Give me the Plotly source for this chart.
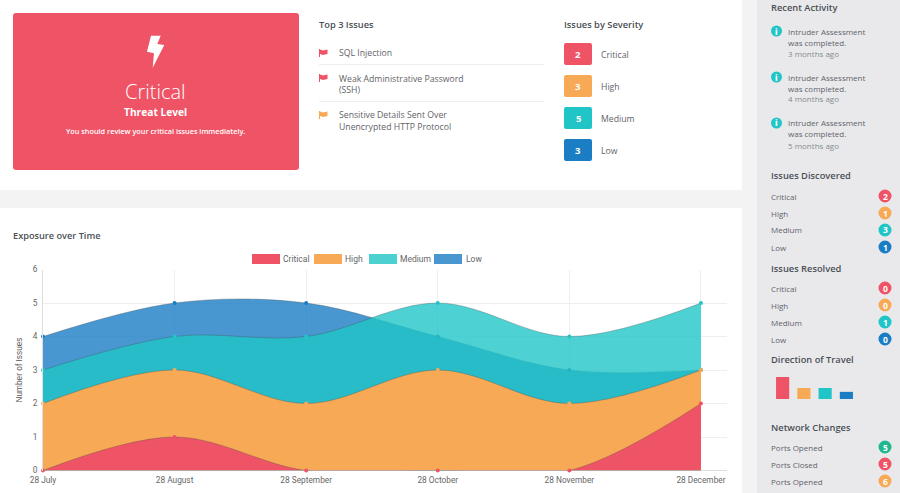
import plotly.graph_objects as go

W, H = 900, 493

# chart data
months = ['28 July', '28 August', '28 September', '28 October', '28 November', '28 December']
critical = [0, 1, 0, 0, 0, 2]
high = [2, 3, 2, 3, 2, 3]
medium = [3, 4, 4, 5, 4, 5]
low = [4, 5, 5, 4, 3, 3]

severity_names = ['Critical', 'High', 'Medium', 'Low']
severity_counts = [2, 3, 5, 3]
discovered = [2, 1, 3, 1]
resolved = [0, 0, 1, 0]
travel = [4, 2, 2, 1.3]
network_names = ['Ports Opened', 'Ports Closed', 'Ports Opened']
network_counts = [5, 5, 6]
activity_ages = ['3 months ago', '4 months ago', '5 months ago']

RED = '#EF5366'
ORANGE = '#F7A956'
TEAL = '#21C5C7'
BLUE = '#1B7DC4'
GREEN = '#1FB78F'
sev_colors = [RED, ORANGE, TEAL, BLUE]
TXT = '#5f6368'
HEAD = '#4a4f55'
FONT = 'Open Sans'


def px(x):
    return x / W


def py(y):
    return 1 - y / H


shapes = []
annotations = []


def rect(x0, y0, x1, y1, color, layer='below'):
    shapes.append(dict(type='rect', xref='paper', yref='paper', x0=px(x0), x1=px(x1), y0=py(y0), y1=py(y1),
                       fillcolor=color, line_width=0, layer=layer))


def poly(points, color):
    path = 'M' + ' L'.join(f'{px(a):.5f},{py(b):.5f}' for a, b in points) + ' Z'
    shapes.append(dict(type='path', xref='paper', yref='paper', path=path, fillcolor=color, line_width=0))


def rounded(x0, y0, x1, y1, r, color):
    p = (f'M{px(x0 + r)},{py(y0)} L{px(x1 - r)},{py(y0)} Q{px(x1)},{py(y0)} {px(x1)},{py(y0 + r)} '
         f'L{px(x1)},{py(y1 - r)} Q{px(x1)},{py(y1)} {px(x1 - r)},{py(y1)} '
         f'L{px(x0 + r)},{py(y1)} Q{px(x0)},{py(y1)} {px(x0)},{py(y1 - r)} '
         f'L{px(x0)},{py(y0 + r)} Q{px(x0)},{py(y0)} {px(x0 + r)},{py(y0)} Z')
    shapes.append(dict(type='path', xref='paper', yref='paper', path=p, fillcolor=color, line_width=0))


def circle(cx, cy, r, color):
    shapes.append(dict(type='circle', xref='paper', yref='paper', x0=px(cx - r), x1=px(cx + r),
                       y0=py(cy + r), y1=py(cy - r), fillcolor=color, line_width=0))


def label(x, y, s, size=8.7, color=TXT, weight=400, anchor='left', family=FONT):
    annotations.append(dict(xref='paper', yref='paper', x=px(x), y=py(y), text=s, showarrow=False,
                            xanchor=anchor, yanchor='middle', borderpad=0, borderwidth=0,
                            font=dict(size=size, color=color, family=family, weight=weight)))


def flag(x, y, color):
    poly([(x, y - 4), (x + 1, y - 4), (x + 1, y - 3.5), (x + 4, y - 2.5), (x + 8.5, y - 3.5), (x + 8.5, y + 1),
          (x + 4, y + 2), (x + 1, y + 1), (x + 1, y + 4), (x, y + 4)], color)


def badge(y, n, color):
    circle(885, y, 6.5, color)
    label(885, y, str(n), 8.5, 'white', 700, 'center')


# page panels
rect(0, 190, 742, 208, '#f3f3f3')
rect(742, 0, 757, H, '#f3f3f4')
rect(757, 0, W, H, '#e9e9ec')

# threat level card
rounded(13, 13, 299, 170, 3, RED)
poly([(151, 35.7), (147, 51.7), (154, 53.3), (152.7, 67.7), (164.3, 45), (157.3, 44), (160.7, 35.7)], 'white')
label(155, 92, 'Critical', 20, 'white', 300, 'center')
label(155, 112, 'Threat Level', 10.2, 'white', 700, 'center')
label(155, 131, 'You should review your critical issues immediately.', 7.3, 'white', 600, 'center')

# top issues
label(319, 25, 'Top 3 Issues', 9.3, HEAD, 600)
flag(319, 53, RED)
label(339, 53, 'SQL Injection')
rect(319, 64, 544, 65, '#eeeeee')
flag(319, 78, RED)
label(339, 78.5, 'Weak Administrative Password')
label(339, 90, '(SSH)')
rect(319, 101, 544, 102, '#eeeeee')
flag(319, 115, ORANGE)
label(339, 115, 'Sensitive Details Sent Over')
label(339, 127, 'Unencrypted HTTP Protocol')

# issues by severity
label(564, 25, 'Issues by Severity', 9.3, HEAD, 600)
for name, n, c, top in zip(severity_names, severity_counts, sev_colors, [43, 75, 107, 139]):
    rounded(564, top, 592, top + 22, 2, c)
    label(578, top + 11.5, str(n), 9.5, 'white', 700, 'center')
    label(601, top + 12, name)

# chart heading and legend
label(13, 236, 'Exposure over Time', 9.2, HEAD, 600)
for name, c, x0, tx in zip(severity_names, [RED, ORANGE, '#4DD0D0', '#4997D0'], [252, 314, 369, 434], [283, 345, 400, 466]):
    rect(x0, 254, x0 + 28, 264, c)
    label(tx, 259, name, 8.5, '#666666', 400, 'left', 'Roboto')

# sidebar
label(771, 7, 'Recent Activity', 9.3, HEAD, 600)
for age, y in zip(activity_ages, [31, 77, 123]):
    circle(776.5, y, 5.5, TEAL)
    label(776.5, y, 'i', 8, 'white', 800, 'center')
    label(788, y, 'Intruder Assessment', 8)
    label(788, y + 11, 'was completed.', 8)
    label(788, y + 22, age, 8, '#85898e')

label(771, 175.5, 'Issues Discovered', 9.3, HEAD, 600)
for name, n, c, y in zip(severity_names, discovered, sev_colors, [196, 213, 230, 247]):
    label(771, y, name, 8)
    badge(y, n, c)

label(771, 268, 'Issues Resolved', 9.3, HEAD, 600)
for name, n, c, y in zip(severity_names, resolved, sev_colors, [288, 305, 322, 339]):
    label(771, y, name, 8)
    badge(y, n, c)

label(771, 359, 'Direction of Travel', 9.3, HEAD, 600)

label(771, 427, 'Network Changes', 9.3, HEAD, 600)
for name, n, c, y in zip(network_names, network_counts, [GREEN, RED, ORANGE], [447, 464, 481]):
    label(771, y, name, 8)
    badge(y, n, c)

fig = go.Figure()
x_pos = list(range(len(months)))

# drawn back to front so critical ends up on top
series = [('Low', low, 'rgba(27,125,196,0.8)', '#1B7DC4'),
          ('Medium', medium, 'rgba(33,197,199,0.8)', '#21C5C7'),
          ('High', high, 'rgba(247,169,86,1)', '#F7A956'),
          ('Critical', critical, 'rgba(239,83,102,1)', '#EF5366')]
for name, vals, fillc, markc in series:
    fig.add_trace(go.Scatter(x=x_pos, y=vals, name=name, mode='lines+markers', fill='tozeroy', fillcolor=fillc,
                             line=dict(shape='spline', smoothing=1.0, color='rgba(70,70,70,0.3)', width=1),
                             marker=dict(size=4, color=markc, line_width=0), cliponaxis=False, showlegend=False))

fig.add_trace(go.Bar(x=severity_names, y=travel, marker=dict(color=sev_colors, line_width=0), xaxis='x2', yaxis='y2',
                     showlegend=False))

fig.update_layout(
    width=W, height=H, margin=dict(l=0, r=0, t=0, b=0), paper_bgcolor='white', plot_bgcolor='white',
    shapes=shapes, annotations=annotations, showlegend=False, bargap=0.38,
    font=dict(family=FONT),
    xaxis=dict(domain=[px(43), px(727)], range=[0, 5.198], tickvals=x_pos, ticktext=months, showgrid=True,
               gridcolor='#eeeeee', gridwidth=1, zeroline=False, showline=False, ticks='', automargin=False,
               ticklabelstandoff=3, tickfont=dict(family='Roboto', size=8.3, color='#666666')),
    yaxis=dict(domain=[py(470.5), py(269.5)], range=[0, 6], dtick=1, showgrid=True, gridcolor='#eeeeee', gridwidth=1,
               zeroline=False, showline=True, linecolor='#dddddd', ticks='', automargin=False,
               ticklabelstandoff=3, tickfont=dict(family='Roboto', size=8.3, color='#666666'),
               title=dict(text='Number of Issues', standoff=8,
                          font=dict(family='Liberation Sans', size=8.3, color='#555555'))),
    xaxis2=dict(domain=[px(772), px(857)], anchor='y2', visible=False, automargin=False),
    yaxis2=dict(domain=[py(399), py(377)], range=[0, 4], anchor='x2', visible=False, automargin=False),
)
fig.add_shape(type='line', xref='paper', yref='paper', x0=px(43), x1=px(727), y0=py(470.5), y1=py(470.5),
              line=dict(color='#dddddd', width=1), layer='below')

fig.write_html("out.html", post_script="document.body.style.margin='0';", config={'displayModeBar': False})
